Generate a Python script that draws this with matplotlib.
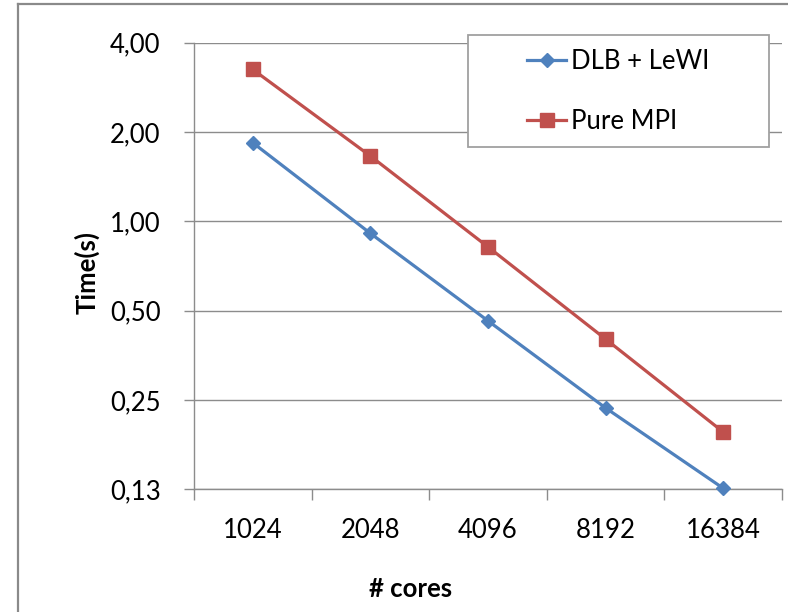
import matplotlib
matplotlib.use("Agg")
import matplotlib.pyplot as plt
from matplotlib.patches import Rectangle
from matplotlib.lines import Line2D

# Execution time (s) per core count
cores = ["1024", "2048", "4096", "8192", "16384"]
dlb_lewi = [1.84, 0.911, 0.462, 0.235, 0.126]
pure_mpi = [3.25, 1.66, 0.82, 0.401, 0.195]

y_ticks = [0.125, 0.25, 0.5, 1, 2, 4]
y_tick_labels = ["0,13", "0,25", "0,50", "1,00", "2,00", "4,00"]

W, H = 788, 612
DPI = 100
FS = 18.5
GRID = "#8c8c8c"
BLUE = "#4f81bd"
RED = "#c0504d"

plt.rcParams["font.family"] = ["Lato", "DejaVu Sans"]

fig = plt.figure(figsize=(W / DPI, H / DPI), dpi=DPI)

def fx(px):
    return px / W

def fy(py):
    return 1 - py / H

# chart-area border (left and top edges visible)
fig.add_artist(Line2D([fx(18), fx(18)], [0, fy(4)], color="#8a8a8a", lw=1.6))
fig.add_artist(Line2D([fx(18), 1], [fy(4), fy(4)], color="#8a8a8a", lw=1.6))

left, right, top, bottom = 194, 782, 42.7, 489.3
ax = fig.add_axes([fx(left), fy(bottom), fx(right - left), (bottom - top) / H])

x = list(range(len(cores)))
ax.plot(x, dlb_lewi, color=BLUE, lw=2.3, marker="D", ms=7.3, label="DLB + LeWI",
        zorder=3, clip_on=False)
ax.plot(x, pure_mpi, color=RED, lw=2.3, marker="s", ms=10, label="Pure MPI",
        zorder=3, clip_on=False)

ax.set_yscale("log", base=2)
ax.set_ylim(0.125, 4)
ax.set_yticks(y_ticks)
ax.set_yticklabels(y_tick_labels)
ax.yaxis.set_minor_locator(matplotlib.ticker.NullLocator())
ax.grid(axis="y", color=GRID, lw=1.0, zorder=1)
ax.set_axisbelow(True)

ax.set_xlim(-0.5, len(cores) - 0.5)
ax.set_xticks([i - 0.5 for i in range(len(cores) + 1)])
ax.set_xticklabels([""] * (len(cores) + 1))
ax.set_xticks(x, minor=True)
ax.set_xticklabels(cores, minor=True)

ax.tick_params(axis="x", which="major", length=8, width=1, color=GRID, direction="out")
ax.tick_params(axis="x", which="minor", length=0, pad=21, labelsize=FS)
ax.tick_params(axis="y", which="major", length=7, width=1, color=GRID, pad=17, labelsize=FS)

for s in ["top", "right"]:
    ax.spines[s].set_visible(False)
for s in ["left", "bottom"]:
    ax.spines[s].set_color(GRID)
    ax.spines[s].set_linewidth(1.0)

fig.text(fx(87), fy(272), "Time(s)", rotation=90, ha="center", va="center",
         fontsize=FS, fontweight="bold")
fig.text(fx(411), fy(597), "# cores", ha="center", va="baseline",
         fontsize=FS, fontweight="bold")

# legend box
lx0, ly0, lx1, ly1 = 468, 35, 769, 147
ax.add_patch(Rectangle((fx(lx0), fy(ly1)), fx(lx1 - lx0), (ly1 - ly0) / H,
                       transform=fig.transFigure, facecolor="white",
                       edgecolor="#a0a0a0", lw=1.3, zorder=4, clip_on=False))
leg = ax.legend(loc="center", bbox_to_anchor=(fx(618.5), fy(91.5)),
                bbox_transform=fig.transFigure, frameon=False, fontsize=FS,
                handlelength=1.5, handletextpad=0.2, labelspacing=1.35,
                borderpad=0, markerscale=1.0)
leg.set_zorder(5)

fig.savefig("out.png", dpi=DPI)
